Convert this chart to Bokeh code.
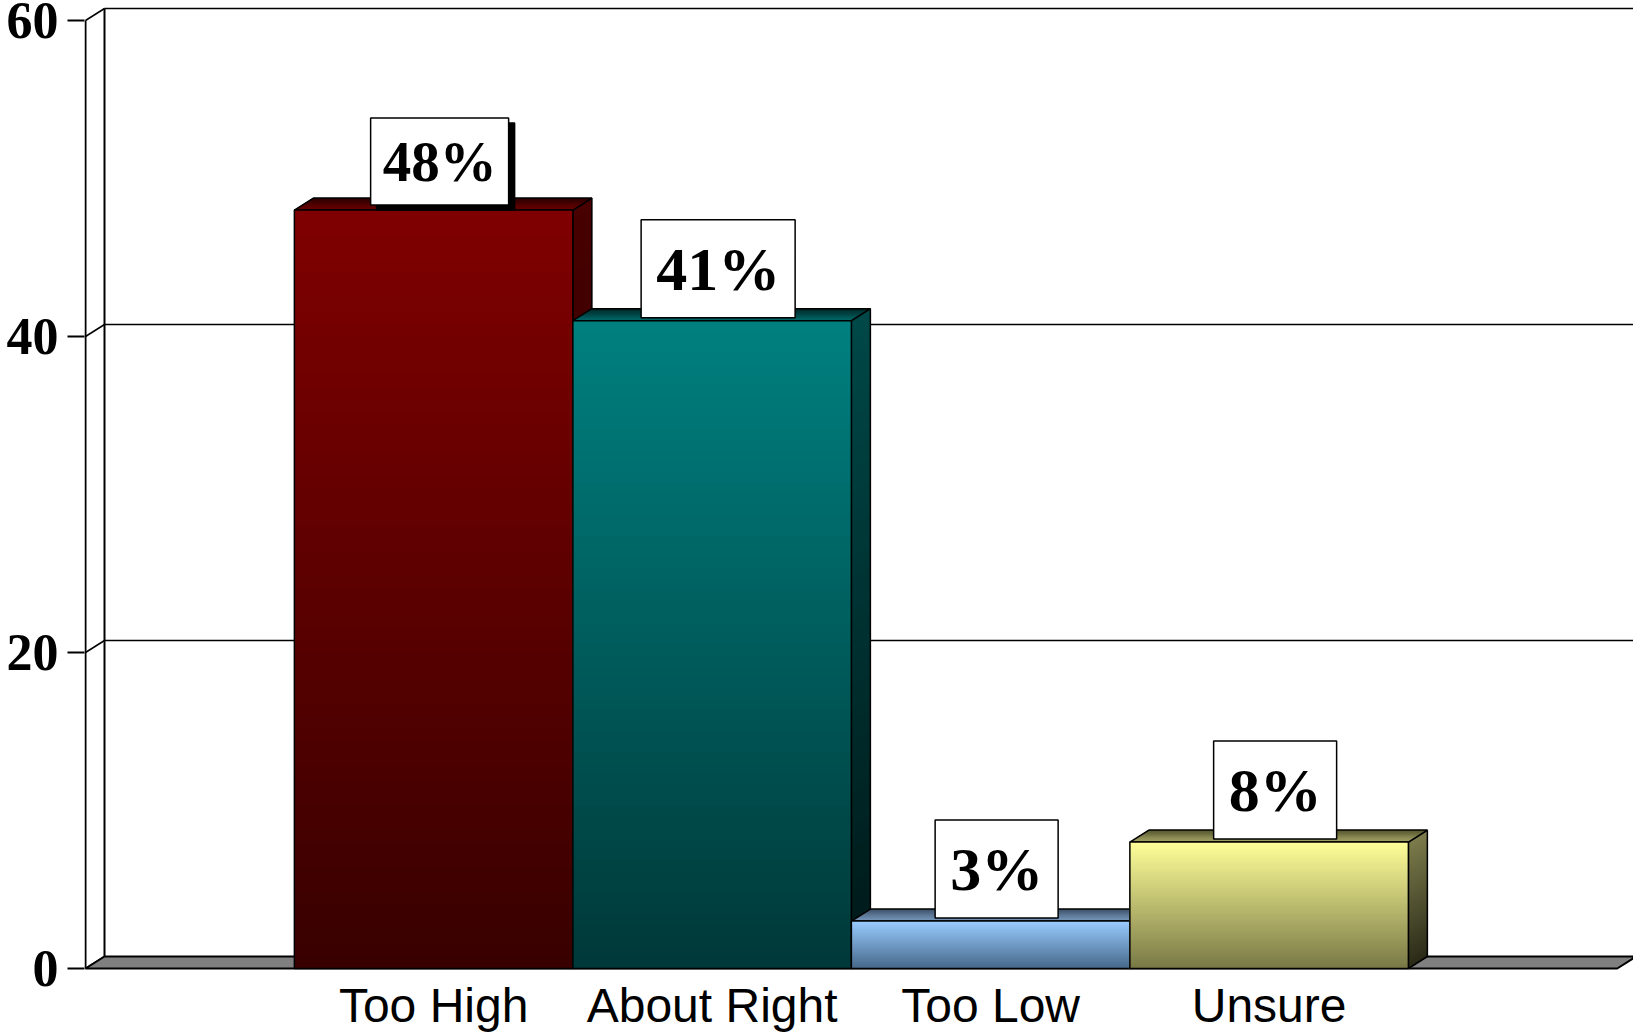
import numpy as np
from bokeh.plotting import figure
from bokeh.models import Range1d, FixedTicker, Label, LinearAxis
from bokeh.core.properties import value
from bokeh.embed import file_html
from bokeh.resources import INLINE

# ---------------- data ----------------
categories = ["Too High", "About Right", "Too Low", "Unsure"]
percent = [48, 41, 3, 8]
value_labels = ["48%", "41%", "3%", "8%"]
y_ticks = [0, 20, 40, 60]

# ---------------- colours ----------------
face_top = ["#800000", "#008080", "#99ccff", "#ffff99"]
face_bottom = ["#380000", "#003838", "#46688a", "#787846"]
side_top = ["#480000", "#004848", "#56789a", "#7c7c4c"]
side_bottom = ["#1e0000", "#001818", "#2a3c50", "#2a2a18"]
lid_front = ["#700000", "#006a6a", "#7a9cc0", "#a8a868"]
lid_back = ["#280000", "#002424", "#3c5068", "#54542e"]

# ---------------- geometry ----------------
GAP = 1.5          # gap width (in bar widths), Excel style
PX_X = 278.5       # pixels per bar width
PX_Y = 15.8        # pixels per percentage point
DX = 19 / PX_X     # 3-D depth offset (x)
DY = 12 / PX_Y     # 3-D depth offset (y)
FIG_W, FIG_H = 1633, 1034
LEFT_B, TOP_B = 84, 2
ZERO_FROM_TOP = 966   # pixels from frame top to the value 0
x_start = -1 / PX_X
x_end = x_start + (FIG_W - LEFT_B) / PX_X
y_end = ZERO_FROM_TOP / PX_Y
y_start = y_end - (FIG_H - TOP_B) / PX_Y

n = len(categories)


def hex2rgb(h):
    h = h.lstrip("#")
    return np.array([int(h[k:k + 2], 16) for k in (0, 2, 4)], dtype=float)


def mix(c0, c1, t):
    a, b = hex2rgb(c0), hex2rgb(c1)
    c = a + (b - a) * t
    return "#%02x%02x%02x" % tuple(int(round(v)) for v in c)


p = figure(width=FIG_W, height=FIG_H,
           x_range=Range1d(x_start, x_end), y_range=Range1d(y_start, y_end),
           x_axis_type=None, y_axis_type=None,
           output_backend="svg", toolbar_location=None,
           min_border_left=LEFT_B, min_border_right=0,
           min_border_top=TOP_B, min_border_bottom=0)
p.outline_line_color = None
p.background_fill_color = "white"
p.border_fill_color = "white"

# ---------------- y axis ----------------
yaxis = LinearAxis(ticker=FixedTicker(ticks=y_ticks),
                   axis_line_color=None,
                   major_tick_out=17, major_tick_in=0,
                   major_tick_line_width=2, major_tick_line_color="black",
                   minor_tick_line_color=None,
                   major_label_text_font="Liberation Serif",
                   major_label_text_font_style="bold",
                   major_label_text_font_size="52px",
                   major_label_text_color="black",
                   major_label_standoff=9)
p.add_layout(yaxis, "left")

# ---------------- walls ----------------
floor_right = n + GAP
grid_vals = y_ticks[1:]
p.segment(x0=[DX] * len(grid_vals), y0=[t + DY for t in grid_vals],
          x1=[x_end + 1] * len(grid_vals), y1=[t + DY for t in grid_vals],
          line_color="black", line_width=1.3)
p.segment(x0=[0] * len(y_ticks), y0=y_ticks,
          x1=[DX] * len(y_ticks), y1=[t + DY for t in y_ticks],
          line_color="black", line_width=1.5)
p.segment(x0=[0, DX], y0=[0, DY], x1=[0, DX], y1=[max(y_ticks), max(y_ticks) + DY],
          line_color="black", line_width=2)
p.patch([0, floor_right, floor_right + DX, DX], [0, 0, DY, DY],
        fill_color="#808080", line_color="black", line_width=2)

# ---------------- bars ----------------
NS = 60
NT = 10
centers = []
for i, v in enumerate(percent):
    x0 = GAP / 2 + i
    x1 = x0 + 1
    centers.append((x0 + x1) / 2)
    edges = np.linspace(0, v, NS + 1)
    ts = (np.arange(NS) + 0.5) / NS
    order = list(range(NS - 1, -1, -1))   # tallest first, later ones cover the lower part
    # side face (vertical gradient)
    side_cols = [mix(side_bottom[i], side_top[i], ts[k]) for k in order]
    p.patches(xs=[[x1, x1 + DX, x1 + DX, x1] for _ in order],
              ys=[[0, DY, edges[k + 1] + DY, edges[k + 1]] for k in order],
              fill_color=side_cols, line_color=None)
    p.patch([x1, x1 + DX, x1 + DX, x1], [0, DY, v + DY, v],
            fill_color=None, line_color="black", line_width=1.5)
    # top face (depth gradient)
    fr = np.linspace(0, 1, NT + 1)
    tt = (np.arange(NT) + 0.5) / NT
    lid_cols = [mix(lid_front[i], lid_back[i], t) for t in tt]
    p.patches(xs=[[x0 + fr[k] * DX, x1 + fr[k] * DX, x1 + DX, x0 + DX] for k in range(NT)],
              ys=[[v + fr[k] * DY, v + fr[k] * DY, v + DY, v + DY] for k in range(NT)],
              fill_color=lid_cols, line_color=None)
    p.patch([x0, x1, x1 + DX, x0 + DX], [v, v, v + DY, v + DY],
            fill_color=None, line_color="black", line_width=1.5)
    # front face (vertical gradient)
    front_cols = [mix(face_bottom[i], face_top[i], ts[k]) for k in order]
    p.quad(left=[x0] * NS, right=[x1] * NS, bottom=[0] * NS,
           top=[edges[k + 1] for k in order],
           fill_color=front_cols, line_color=None)
    p.quad(left=[x0], right=[x1], bottom=[0], top=[v],
           fill_color=None, line_color="black", line_width=1.5)

# ---------------- value boxes ----------------
for i, v in enumerate(percent):
    first = i == 0
    fsize = "57px" if first else "62px"
    pad = 12 if first else 15
    yoff = 5 if first else 3
    if first:
        p.add_layout(Label(x=centers[i], y=v, x_offset=12, y_offset=yoff - 5,
                           text=value_labels[i], text_color="black",
                           text_font="Liberation Serif", text_font_style="bold",
                           text_font_size=fsize, text_align="center",
                           text_baseline="bottom", padding=pad,
                           background_fill_color="black",
                           border_line_color="black", border_line_width=1.5))
    p.add_layout(Label(x=centers[i], y=v, x_offset=6, y_offset=yoff,
                       text=value_labels[i], text_color="black",
                       text_font="Liberation Serif", text_font_style="bold",
                       text_font_size=fsize, text_align="center",
                       text_baseline="bottom", padding=pad,
                       background_fill_color="white",
                       border_line_color="black", border_line_width=1.5))

# ---------------- category labels ----------------
label_y = -37 / PX_Y
p.text(x=centers, y=[label_y] * n, text=categories,
       text_font=value("Liberation Sans"), text_font_size="48px",
       text_align="center", text_baseline="middle", text_color="black")

open("out.html", "w").write(file_html(p, INLINE))
